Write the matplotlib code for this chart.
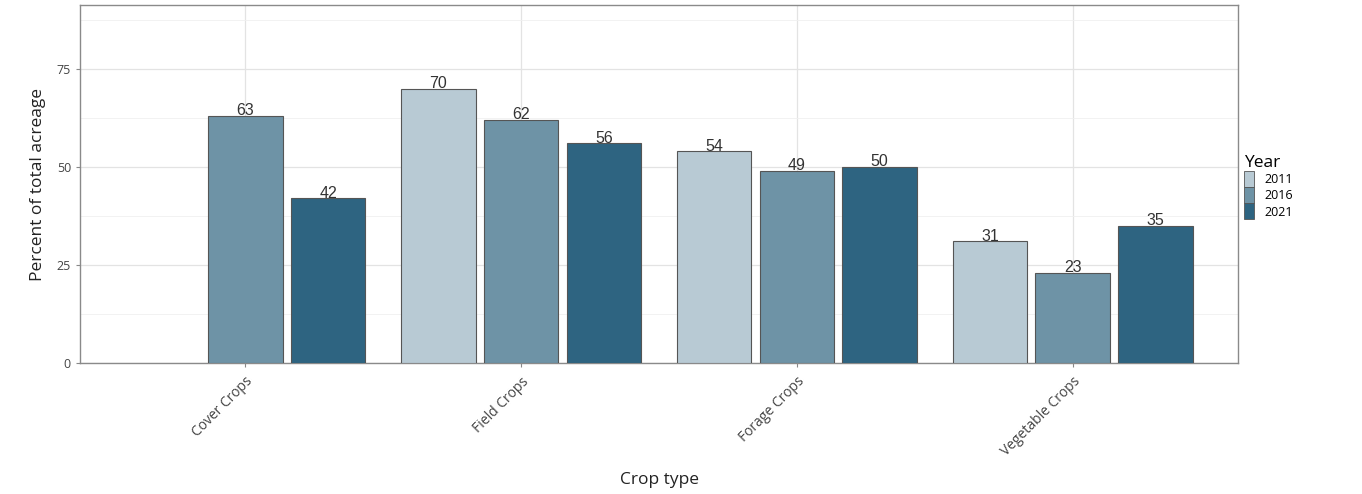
import numpy as np
import matplotlib
matplotlib.use('Agg')
import matplotlib.pyplot as plt
from matplotlib.patches import Patch
from matplotlib.ticker import MultipleLocator

crops = ['Cover Crops', 'Field Crops', 'Forage Crops', 'Vegetable Crops']
years = ['2011', '2016', '2021']
pct_2011 = [np.nan, 70, 54, 31]
pct_2016 = [63, 62, 49, 23]
pct_2021 = [42, 56, 50, 35]
colours = ['#b8cad4', '#6e93a6', '#2e6481']

plt.rcParams['font.family'] = ['Open Sans', 'DejaVu Sans']

fig = plt.figure(figsize=(13.62, 4.94), dpi=100)
ax = fig.add_axes([80/1362, 1 - 363/494, (1238-80)/1362, (363-5)/494])

x = np.arange(len(crops))
series = [pct_2011, pct_2016, pct_2021]
for i, (vals, col) in enumerate(zip(series, colours)):
    pos = x + (i - 1) * 0.3
    v = np.array(vals, dtype=float)
    ok = ~np.isnan(v)
    ax.bar(pos[ok], v[ok], width=0.27, color=col, edgecolor='#555555',
           linewidth=0.8, zorder=3)
    for p, val in zip(pos[ok], v[ok]):
        ax.text(p, val - 0.6, '%d' % val, ha='center', va='bottom',
                fontsize=11.5, color='#333333', family='Liberation Sans', zorder=4)

ax.set_xlim(-0.6, 3.6)
ax.set_ylim(0, 91.3)
ax.set_xticks(x)
ax.set_xticklabels(crops, rotation=45, ha='right', rotation_mode='anchor',
                   fontsize=10, color='#444444')
ax.yaxis.set_major_locator(MultipleLocator(25))
ax.yaxis.set_minor_locator(MultipleLocator(12.5))
ax.tick_params(axis='y', labelsize=9, labelcolor='#444444')
ax.tick_params(which='both', color='#888888', length=3, width=0.8)
ax.tick_params(axis='x', pad=5)
ax.tick_params(which='minor', length=0)

ax.grid(which='major', color='#e3e3e3', linewidth=0.9, zorder=0)
ax.grid(which='minor', axis='y', color='#f0f0f0', linewidth=0.6, zorder=0)
for s in ax.spines.values():
    s.set_color('#8a8a8a')
    s.set_linewidth(1.0)

ax.set_xlabel('Crop type', fontsize=12.5, color='#222222', labelpad=9)
ax.set_ylabel('Percent of total acreage', fontsize=12.5, color='#222222', labelpad=8)

handles = [Patch(facecolor=c, edgecolor='#555555', linewidth=0.6) for c in colours]
leg = fig.legend(handles, years, title='Year', loc='upper left',
                 bbox_to_anchor=(1233/1362, 1 - 144/494), frameon=False,
                 fontsize=9, title_fontsize=12.5, handlelength=0.8,
                 handleheight=1.6, labelspacing=0.0, handletextpad=0.8)
leg._legend_box.align = 'left'

fig.savefig('out.png', dpi=100, facecolor='white')
